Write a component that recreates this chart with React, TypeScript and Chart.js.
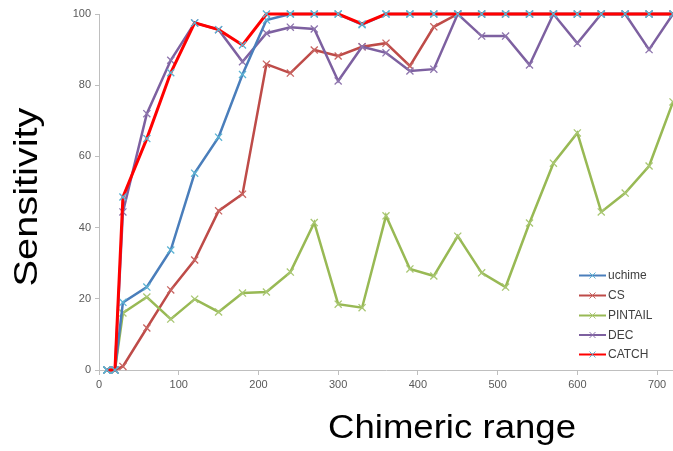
import React, { useEffect, useRef } from "react";
import { Chart, registerables } from "chart.js";

Chart.register(...registerables);

const xValues = [10, 20, 30, 60, 90, 120, 150, 180, 210, 240, 270, 300, 330, 360, 390, 420, 450, 480, 510, 540, 570, 600, 630, 660, 690, 720];

const uchime = [0, 0, 19, 23.3, 33.7, 55.3, 65.4, 83, 98.3, 100, 100, 100, 97, 100, 100, 100, 100, 100, 100, 100, 100, 100, 100, 100, 100, 100];
const cs = [0, 0, 1, 11.8, 22.5, 30.9, 44.7, 49.4, 85.9, 83.4, 89.9, 88.2, 90.8, 91.8, 85.4, 96.4, 100, 100, 100, 100, 100, 100, 100, 100, 100, 100];
const pintail = [0, 0, 16, 20.5, 14.3, 19.9, 16.3, 21.6, 21.9, 27.5, 41.4, 18.5, 17.5, 43.3, 28.4, 26.4, 37.6, 27.3, 23.3, 41.3, 58.1, 66.6, 44.4, 49.7, 57.3, 75.3];
const dec = [0, 0, 44.4, 72, 87, 97.5, 95.6, 86.6, 94.6, 96.3, 95.8, 81.2, 90.8, 89.1, 84, 84.5, 100, 93.8, 93.8, 85.7, 100, 91.8, 100, 100, 90, 100];
const catchVals = [0, 0, 48.6, 65, 83.5, 97.5, 95.6, 91.3, 100, 100, 100, 100, 97.2, 100, 100, 100, 100, 100, 100, 100, 100, 100, 100, 100, 100, 100];

const seriesNames = ["uchime", "CS", "PINTAIL", "DEC", "CATCH"];
const xTitle = "Chimeric range";
const yTitle = "Sensitivity";

const toPoints = (vals: number[]) => vals.map((v, i) => ({ x: xValues[i], y: v }));

const FONT = "'Liberation Sans', Arial, sans-serif";

const overlayPlugin = {
  id: "overlay",
  afterDraw(chart: any) {
    const ctx = chart.ctx as CanvasRenderingContext2D;
    ctx.save();
    // axis titles
    ctx.fillStyle = "#000000";
    ctx.font = `33px ${FONT}`;
    ctx.textBaseline = "alphabetic";
    ctx.textAlign = "center";
    const wx = ctx.measureText(xTitle).width;
    ctx.save();
    ctx.translate(452, 438);
    ctx.scale(248 / wx, 1);
    ctx.fillText(xTitle, 0, 0);
    ctx.restore();
    const wy = ctx.measureText(yTitle).width;
    ctx.save();
    ctx.translate(37, 197);
    ctx.rotate(-Math.PI / 2);
    ctx.scale(179 / wy, 1);
    ctx.fillText(yTitle, 0, 0);
    ctx.restore();

    // legend
    const rows = [275.5, 295.5, 315.5, 335, 354.5];
    ctx.font = `12px ${FONT}`;
    ctx.textAlign = "left";
    ctx.textBaseline = "middle";
    chart.data.datasets.forEach((ds: any, i: number) => {
      const y = rows[i];
      ctx.strokeStyle = ds.borderColor;
      ctx.lineWidth = 2;
      ctx.beginPath();
      ctx.moveTo(579, y);
      ctx.lineTo(606, y);
      ctx.stroke();
      ctx.strokeStyle = ds.pointBorderColor;
      ctx.lineWidth = 1;
      const r = 3;
      ctx.beginPath();
      ctx.moveTo(592.5 - r, y - r);
      ctx.lineTo(592.5 + r, y + r);
      ctx.moveTo(592.5 - r, y + r);
      ctx.lineTo(592.5 + r, y - r);
      ctx.stroke();
      ctx.fillStyle = "#404040";
      ctx.fillText(ds.label, 608, y + 0.5);
    });
    ctx.restore();
  },
};

export default function App() {
  const canvasRef = useRef<HTMLCanvasElement | null>(null);

  useEffect(() => {
    document.body.style.margin = "0";
    document.body.style.overflow = "hidden";
    const canvas = canvasRef.current;
    if (!canvas) return;
    const mk = (label: string, vals: number[], color: string, marker: string, width: number, order: number) => ({
      label,
      data: toPoints(vals),
      borderColor: color,
      backgroundColor: color,
      borderWidth: width,
      pointStyle: "crossRot",
      pointRadius: 5,
      pointBorderWidth: 1.3,
      pointBorderColor: marker,
      pointBackgroundColor: marker,
      tension: 0,
      order,
      clip: false,
    });
    const chart = new Chart(canvas, {
      type: "line",
      data: {
        datasets: [
          mk(seriesNames[0], uchime, "#4a7ebb", "#5cb3d3", 2.5, 1),
          mk(seriesNames[1], cs, "#be4b48", "#c86562", 2.5, 4),
          mk(seriesNames[2], pintail, "#98b954", "#a9c773", 2.5, 3),
          mk(seriesNames[3], dec, "#7d60a0", "#8d74ad", 2.5, 2),
          mk(seriesNames[4], catchVals, "#ff0000", "#5cb3d3", 3, 0),
        ] as any,
      },
      options: {
        responsive: false,
        animation: false,
        devicePixelRatio: 1,
        layout: { autoPadding: false, padding: { top: 14, right: 0, left: 0, bottom: 0 } },
        plugins: {
          legend: { display: false },
          tooltip: { enabled: false },
          title: { display: false },
        },
        scales: {
          x: {
            type: "linear",
            min: 0,
            max: 720,
            afterFit: (s: any) => {
              s.height = 81;
            },
            ticks: {
              stepSize: 100,
              includeBounds: false,
              color: "#595959",
              font: { size: 11, family: FONT },
              padding: 3,
              maxRotation: 0,
            },
            grid: {
              drawOnChartArea: false,
              drawTicks: true,
              tickLength: 5,
              color: "#bfbfbf",
            },
            border: { color: "#bfbfbf", width: 1 },
          },
          y: {
            type: "linear",
            min: 0,
            max: 100,
            afterFit: (s: any) => {
              s.width = 99;
            },
            ticks: {
              stepSize: 20,
              color: "#595959",
              font: { size: 11, family: FONT },
              padding: 4,
            },
            grid: {
              drawOnChartArea: false,
              drawTicks: true,
              tickLength: 4,
              color: "#bfbfbf",
            },
            border: { color: "#bfbfbf", width: 1 },
          },
        },
      } as any,
      plugins: [overlayPlugin],
    });
    return () => chart.destroy();
  }, []);

  return (
    <div style={{ width: 673, height: 451, background: "#ffffff" }}>
      <canvas ref={canvasRef} width={673} height={451} style={{ display: "block" }} />
    </div>
  );
}
